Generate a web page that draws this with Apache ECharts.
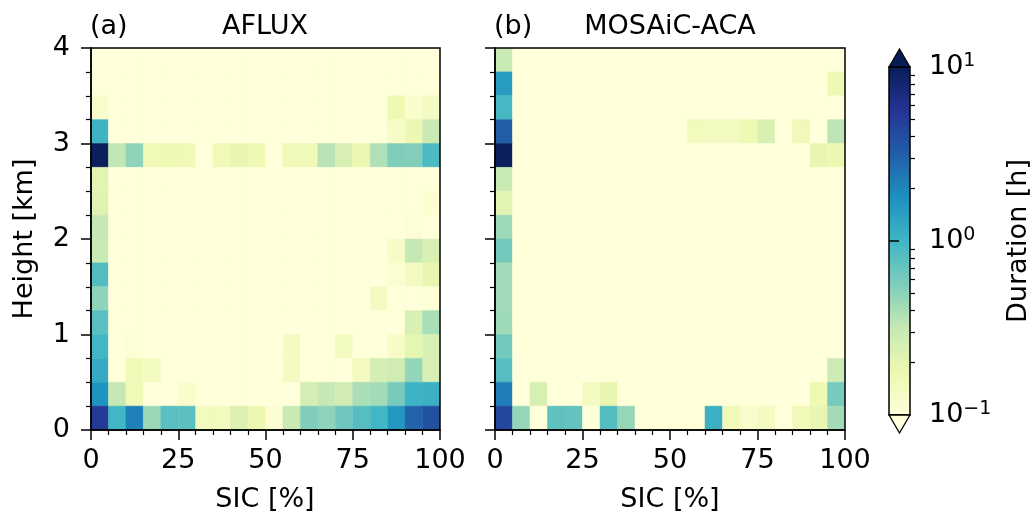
<!DOCTYPE html>
<html>
<head>
<meta charset="utf-8">
<script src="https://cdn.jsdelivr.net/npm/echarts@6/dist/echarts.min.js"></script>
<style>
  html, body { margin: 0; padding: 0; background: #fff; }
  #chart { width: 1035px; height: 518px; }
</style>
</head>
<body>
<div id="chart"></div>
<script>
// SIC bin starts [%] and height bin starts [km] (top row first)
const sicBins = [0, 5, 10, 15, 20, 25, 30, 35, 40, 45, 50, 55, 60, 65, 70, 75, 80, 85, 90, 95];
const heightBins = [3.75, 3.5, 3.25, 3.0, 2.75, 2.5, 2.25, 2.0, 1.75, 1.5, 1.25, 1.0, 0.75, 0.5, 0.25, 0];

// duration [h] per cell, rows from top (3.75-4 km) to bottom (0-0.25 km); 0 = nothing
const afluxDuration = [
  [0, 0, 0, 0, 0, 0, 0, 0, 0, 0, 0, 0, 0, 0, 0, 0, 0, 0, 0, 0],
  [0, 0, 0, 0, 0, 0, 0, 0, 0, 0, 0, 0, 0, 0, 0, 0, 0, 0, 0, 0],
  [0.12, 0, 0, 0, 0, 0, 0, 0, 0, 0, 0, 0, 0, 0, 0, 0, 0, 0.17, 0.12, 0.14],
  [1.05, 0, 0, 0, 0, 0, 0, 0, 0, 0, 0, 0, 0, 0, 0, 0, 0, 0.13, 0.18, 0.3],
  [9.5, 0.33, 0.5, 0.16, 0.17, 0.16, 0, 0.16, 0.19, 0.17, 0, 0.16, 0.16, 0.36, 0.25, 0.18, 0.38, 0.56, 0.55, 0.9],
  [0.21, 0, 0, 0, 0, 0, 0, 0, 0, 0, 0, 0, 0, 0, 0, 0, 0, 0, 0, 0],
  [0.22, 0, 0, 0, 0, 0, 0, 0, 0, 0, 0, 0, 0, 0, 0, 0, 0, 0, 0, 0.11],
  [0.32, 0, 0, 0, 0, 0, 0, 0, 0, 0, 0, 0, 0, 0, 0, 0, 0, 0, 0.105, 0],
  [0.3, 0, 0, 0, 0, 0, 0, 0, 0, 0, 0, 0, 0, 0, 0, 0, 0, 0.13, 0.32, 0.24],
  [0.85, 0, 0, 0, 0, 0, 0, 0, 0, 0, 0, 0, 0, 0, 0, 0, 0, 0.11, 0.14, 0.19],
  [0.5, 0, 0, 0, 0, 0, 0, 0, 0, 0, 0, 0, 0, 0, 0, 0, 0.14, 0, 0, 0.105],
  [0.8, 0, 0, 0, 0, 0, 0, 0, 0, 0, 0, 0, 0, 0, 0, 0, 0, 0, 0.24, 0.4],
  [1.0, 0, 0.105, 0, 0, 0, 0, 0, 0, 0, 0, 0.14, 0, 0, 0.14, 0, 0, 0.13, 0.2, 0.24],
  [1.2, 0, 0.16, 0.14, 0, 0, 0, 0, 0, 0, 0, 0.14, 0.1, 0, 0, 0.15, 0.26, 0.28, 0.48, 0.25],
  [1.7, 0.32, 0.16, 0.1, 0, 0.12, 0, 0, 0, 0, 0, 0, 0.26, 0.32, 0.27, 0.4, 0.42, 0.6, 1.05, 1.1],
  [5.2, 1.0, 2.1, 0.45, 0.8, 0.78, 0.15, 0.15, 0.23, 0.18, 0.11, 0.3, 0.56, 0.5, 0.65, 0.82, 1.0, 1.6, 3.0, 3.8]
];

const mosaicDuration = [
  [0.3, 0, 0, 0, 0, 0, 0, 0, 0, 0, 0, 0, 0, 0, 0, 0, 0, 0, 0, 0],
  [1.5, 0, 0, 0, 0, 0, 0, 0, 0, 0, 0, 0, 0, 0, 0, 0, 0, 0, 0, 0.17],
  [0.95, 0, 0, 0, 0, 0, 0, 0, 0, 0, 0, 0, 0, 0, 0, 0, 0, 0, 0, 0],
  [3.2, 0, 0, 0, 0, 0, 0, 0, 0, 0, 0, 0.15, 0.14, 0.14, 0.17, 0.24, 0, 0.16, 0, 0.34],
  [9.5, 0, 0, 0, 0, 0, 0, 0, 0, 0, 0, 0, 0, 0, 0, 0, 0, 0, 0.19, 0.18],
  [0.3, 0, 0, 0, 0, 0, 0, 0, 0, 0, 0, 0, 0, 0, 0, 0, 0, 0, 0, 0],
  [0.21, 0, 0, 0, 0, 0, 0, 0, 0, 0, 0, 0, 0, 0, 0, 0, 0, 0, 0, 0],
  [0.44, 0, 0, 0, 0, 0, 0, 0, 0, 0, 0, 0, 0, 0, 0, 0, 0, 0, 0, 0],
  [0.62, 0, 0, 0, 0, 0, 0, 0, 0, 0, 0, 0, 0, 0, 0, 0, 0, 0, 0, 0],
  [0.43, 0, 0, 0, 0, 0, 0, 0, 0, 0, 0, 0, 0, 0, 0, 0, 0, 0, 0, 0],
  [0.43, 0, 0, 0, 0, 0, 0, 0, 0, 0, 0, 0, 0, 0, 0, 0, 0, 0, 0, 0],
  [0.44, 0, 0, 0, 0, 0, 0, 0, 0, 0, 0, 0, 0, 0, 0, 0, 0, 0, 0, 0],
  [0.62, 0.1, 0, 0, 0, 0, 0, 0, 0, 0, 0, 0, 0, 0, 0, 0, 0, 0, 0, 0],
  [0.82, 0, 0, 0, 0, 0, 0, 0, 0, 0, 0, 0, 0, 0, 0, 0, 0, 0, 0, 0.29],
  [2.2, 0, 0.25, 0, 0, 0.14, 0.19, 0, 0, 0, 0, 0, 0, 0, 0, 0, 0, 0, 0.17, 0.6],
  [4.3, 0.47, 0, 0.76, 0.72, 0, 0.85, 0.47, 0, 0.1, 0, 0, 1.1, 0.16, 0.12, 0.14, 0, 0.16, 0.19, 0.42]
];

// colorbar ticks [h]
const cbarMajor = [0.1, 1, 10];
const cbarMinor = [0.2, 0.3, 0.4, 0.5, 0.6, 0.7, 0.8, 0.9, 2, 3, 4, 5, 6, 7, 8, 9];

// YlGnBu
const ylgnbu = ['#ffffd9', '#edf8b1', '#c7e9b4', '#7fcdbb', '#41b6c4', '#1d91c0', '#225ea8', '#253494', '#081d58'];

const sicStep = 5;
const heightStep = 0.25;
const FONT = 'DejaVu Sans';

const cells = (grid) => {
  const out = [];
  grid.forEach((row, r) => {
    row.forEach((v, c) => {
      // log10 colour scale, clipped to 0.1 .. 10 h
      out.push([sicBins[c], heightBins[r], Math.max(-1, Math.min(1, Math.log10(v)))]);
    });
  });
  return out;
};

const renderCell = (params, api) => {
  const lo = api.coord([api.value(0), api.value(1)]);
  const hi = api.coord([api.value(0) + sicStep, api.value(1) + heightStep]);
  const color = api.visual('color');
  return {
    type: 'rect',
    shape: { x: lo[0], y: hi[1], width: hi[0] - lo[0], height: lo[1] - hi[1] },
    style: { fill: color, stroke: color, lineWidth: 0.5 },
  };
};

const axisLineStyle = { show: true, onZero: false, lineStyle: { color: '#000', width: 1.5 } };

const xAxisFor = (gridIndex) => ({
  type: 'value',
  gridIndex,
  min: 0,
  max: 100,
  interval: 25,
  z: 6,
  axisLine: axisLineStyle,
  axisTick: { length: 10, lineStyle: { color: '#000', width: 1.5 } },
  minorTick: { show: true, splitNumber: 5, length: 5, lineStyle: { color: '#000', width: 1.2 } },
  axisLabel: { margin: 17, fontSize: 27, color: '#000', fontFamily: FONT },
  splitLine: { show: false },
});

const yAxisFor = (gridIndex, showLabels) => ({
  type: 'value',
  gridIndex,
  min: 0,
  max: 4,
  interval: 1,
  z: 6,
  axisLine: axisLineStyle,
  axisTick: { length: 10, lineStyle: { color: '#000', width: 1.5 } },
  minorTick: { show: true, splitNumber: 4, length: 5, lineStyle: { color: '#000', width: 1.2 } },
  axisLabel: { show: showLabels, margin: 21, fontSize: 27, color: '#000', fontFamily: FONT },
  splitLine: { show: false },
});

const gridBox = { show: true, z: 5, backgroundColor: 'transparent', borderColor: '#000', borderWidth: 1.5 };

const textEl = (text, x, y, align, rotation) => ({
  type: 'text',
  x,
  y,
  rotation: rotation || 0,
  style: {
    text,
    font: '27px "DejaVu Sans"',
    fontSize: 27,
    fontFamily: FONT,
    fill: '#000',
    align,
    verticalAlign: 'middle',
    textAlign: align,
    textVerticalAlign: 'middle',
  },
});

const chart = echarts.init(document.getElementById('chart'), null, { renderer: 'canvas' });

chart.setOption({
  animation: false,
  backgroundColor: '#fff',
  textStyle: { fontFamily: FONT },
  grid: [
    Object.assign({ left: 91, top: 48, width: 349, height: 382 }, gridBox),
    Object.assign({ left: 495, top: 48, width: 350, height: 382 }, gridBox),
    Object.assign({ left: 889, top: 67, width: 21, height: 348 }, gridBox),
  ],
  xAxis: [
    xAxisFor(0),
    xAxisFor(1),
    { type: 'value', gridIndex: 2, show: false, min: 0, max: 1 },
  ],
  yAxis: [
    yAxisFor(0, true),
    yAxisFor(1, false),
    {
      type: 'value',
      gridIndex: 2,
      position: 'right',
      min: -1,
      max: 1,
      z: 6,
      axisLine: { show: false },
      splitLine: { show: false },
      axisTick: {
        show: true,
        length: 10,
        customValues: cbarMajor.map(Math.log10),
        lineStyle: { color: '#000', width: 1.5 },
      },
      axisLabel: {
        margin: 19,
        customValues: cbarMajor.map(Math.log10),
        formatter: (v) => '{b|10}{s|' + String(Math.round(v)).replace('-', '\u2212') + '}',
        rich: {
          b: { fontSize: 27, fontFamily: FONT, color: '#000', lineHeight: 30 },
          s: { fontSize: 19, fontFamily: FONT, color: '#000', verticalAlign: 'top', lineHeight: 30 },
        },
      },
    },
    {
      type: 'value',
      gridIndex: 2,
      position: 'right',
      min: -1,
      max: 1,
      z: 6,
      axisLine: { show: false },
      splitLine: { show: false },
      axisLabel: { show: false },
      axisTick: {
        show: true,
        length: 5,
        customValues: cbarMinor.map(Math.log10),
        lineStyle: { color: '#000', width: 1.2 },
      },
    },
  ],
  visualMap: {
    type: 'continuous',
    min: -1,
    max: 1,
    dimension: 2,
    seriesIndex: [0, 1],
    calculable: false,
    hoverLink: false,
    left: 889,
    top: 67,
    itemWidth: 21,
    itemHeight: 348,
    padding: 0,
    text: null,
    inRange: { color: ylgnbu },
  },
  series: [
    {
      type: 'custom',
      xAxisIndex: 0,
      yAxisIndex: 0,
      z: 1,
      clip: true,
      renderItem: renderCell,
      encode: { x: 0, y: 1 },
      data: cells(afluxDuration),
    },
    {
      type: 'custom',
      xAxisIndex: 1,
      yAxisIndex: 1,
      z: 1,
      clip: true,
      renderItem: renderCell,
      encode: { x: 0, y: 1 },
      data: cells(mosaicDuration),
    },
  ],
  graphic: [
    textEl('(a)', 90, 27, 'left'),
    textEl('AFLUX', 265, 27, 'center'),
    textEl('(b)', 494, 27, 'left'),
    textEl('MOSAiC-ACA', 670, 27, 'center'),
    textEl('SIC [%]', 265, 500, 'center'),
    textEl('SIC [%]', 670, 500, 'center'),
    textEl('Height [km]', 25, 239, 'center', Math.PI / 2),
    textEl('Duration [h]', 1019, 241, 'center', Math.PI / 2),
    {
      type: 'polygon',
      z: 10,
      shape: { points: [[889, 67], [910, 67], [899.5, 49]] },
      style: { fill: ylgnbu[ylgnbu.length - 1], stroke: '#000', lineWidth: 1.3 },
    },
    {
      type: 'polygon',
      z: 10,
      shape: { points: [[889, 415], [910, 415], [899.5, 433]] },
      style: { fill: ylgnbu[0], stroke: '#000', lineWidth: 1.3 },
    },
  ],
});
</script>
</body>
</html>
